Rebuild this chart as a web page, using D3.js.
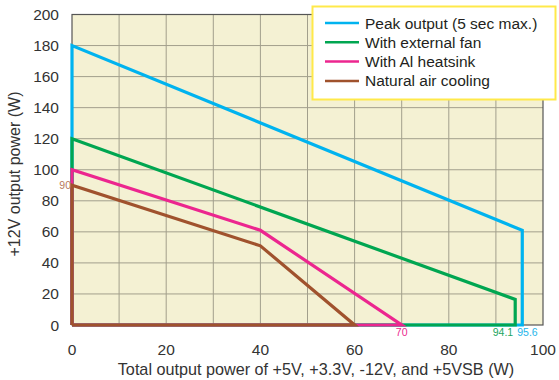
<!DOCTYPE html>
<html>
<head>
<meta charset="utf-8">
<script src="https://cdn.jsdelivr.net/npm/d3@7"></script>
<style>
  body { margin: 0; background: #fff; }
  svg text { font-family: "Liberation Sans", Arial, sans-serif; }
</style>
</head>
<body>
<svg id="chart" width="559" height="380"></svg>
<script>
// データ
var seriesNames = ["Peak output (5 sec max.)", "With external fan", "With Al heatsink", "Natural air cooling"];
var seriesColors = ["#00b3ef", "#00a651", "#ec268f", "#a0522d"];
var peakPts = [[0, 0], [0, 180], [95.6, 61], [95.6, 0], [0, 0]];
var fanPts = [[0, 0], [0, 120], [94.1, 16.5], [94.1, 0], [0, 0]];
var alPts = [[0, 0], [0, 100], [40, 61], [70, 0], [0, 0]];
var naturalPts = [[0, 0], [0, 90], [40, 51], [60, 0], [0, 0]];
var xTicks = [0, 20, 40, 60, 80, 100];
var yTicks = [0, 20, 40, 60, 80, 100, 120, 140, 160, 180, 200];
var endLabels = [
  { text: "90", axis: "y", value: 90, color: "#b87a5e", anchor: "end", dx: -1 },
  { text: "70", axis: "x", value: 70, color: "#ec268f", anchor: "middle", dx: 0 },
  { text: "94.1", axis: "x", value: 94.1, color: "#22a55f", anchor: "end", dx: -2 },
  { text: "95.6", axis: "x", value: 95.6, color: "#25b5ea", anchor: "start", dx: -5 }
];

var svg = d3.select("#chart");
var x = d3.scaleLinear().domain([0, 100]).range([72, 543]);
var y = d3.scaleLinear().domain([0, 200]).range([325, 14.5]);

// 背景
svg.append("rect")
  .attr("x", x(0)).attr("y", y(200))
  .attr("width", x(100) - x(0)).attr("height", y(0) - y(200))
  .attr("fill", "#f4f1d3");

// グリッド
svg.append("g").selectAll("line")
  .data(d3.range(10, 100, 10))
  .enter().append("line")
  .attr("x1", (d) => x(d)).attr("x2", (d) => x(d))
  .attr("y1", y(0)).attr("y2", y(200))
  .attr("stroke", "#a29f8c").attr("stroke-width", 1);
svg.append("g").selectAll("line")
  .data(yTicks.slice(1, -1))
  .enter().append("line")
  .attr("x1", x(0)).attr("x2", x(100))
  .attr("y1", (d) => y(d)).attr("y2", (d) => y(d))
  .attr("stroke", "#a29f8c").attr("stroke-width", 1);

// 枠
svg.append("rect")
  .attr("x", x(0)).attr("y", y(200))
  .attr("width", x(100) - x(0)).attr("height", y(0) - y(200))
  .attr("fill", "none").attr("stroke", "#555").attr("stroke-width", 1.2);

// 目盛り
svg.append("g").selectAll("text")
  .data(xTicks)
  .enter().append("text")
  .attr("x", (d) => x(d)).attr("y", 355)
  .attr("text-anchor", "middle")
  .attr("font-size", 15.5).attr("fill", "#333")
  .text((d) => d);
svg.append("g").selectAll("text")
  .data(yTicks)
  .enter().append("text")
  .attr("x", 59).attr("y", (d) => y(d) + 5.5)
  .attr("text-anchor", "end")
  .attr("font-size", 15.5).attr("fill", "#333")
  .text((d) => d);

// 軸タイトル
svg.append("text")
  .attr("x", 316).attr("y", 375)
  .attr("text-anchor", "middle")
  .attr("font-size", 16.2).attr("fill", "#333")
  .text("Total output power of +5V, +3.3V, -12V, and +5VSB (W)");
svg.append("text")
  .attr("transform", "translate(20,174) rotate(-90)")
  .attr("text-anchor", "middle")
  .attr("font-size", 16).attr("fill", "#333")
  .text("+12V output power (W)");

// 線
var line = d3.line().x((d) => x(d[0])).y((d) => y(d[1]));
var allSeries = [peakPts, fanPts, alPts, naturalPts];
svg.append("g").selectAll("path")
  .data(allSeries)
  .enter().append("path")
  .attr("d", line)
  .attr("fill", "none")
  .attr("stroke", (d, i) => seriesColors[i])
  .attr("stroke-width", 3.2)
  .attr("stroke-linejoin", "miter");

// 端の値ラベル
svg.append("g").selectAll("text")
  .data(endLabels)
  .enter().append("text")
  .attr("x", (d) => (d.axis === "y" ? x(0) : x(d.value)) + d.dx)
  .attr("y", (d) => d.axis === "y" ? y(d.value) + 3.5 : 336)
  .attr("text-anchor", (d) => d.anchor)
  .attr("font-size", 10.5)
  .attr("fill", (d) => d.color)
  .text((d) => d.text);

// 凡例
var legend = svg.append("g");
legend.append("rect")
  .attr("x", 312.5).attr("y", 6.5)
  .attr("width", 243).attr("height", 93)
  .attr("fill", "#fff").attr("stroke", "#ffe94a").attr("stroke-width", 2);
var item = legend.selectAll("g")
  .data(seriesNames)
  .enter().append("g")
  .attr("transform", (d, i) => `translate(0,${23 + i * 19.3})`);
item.append("line")
  .attr("x1", 325).attr("x2", 359)
  .attr("stroke", (d, i) => seriesColors[i])
  .attr("stroke-width", 2.5);
item.append("text")
  .attr("x", 365).attr("y", 5.5)
  .attr("font-size", 15.5).attr("fill", "#231f20")
  .text((d) => d);
</script>
</body>
</html>
